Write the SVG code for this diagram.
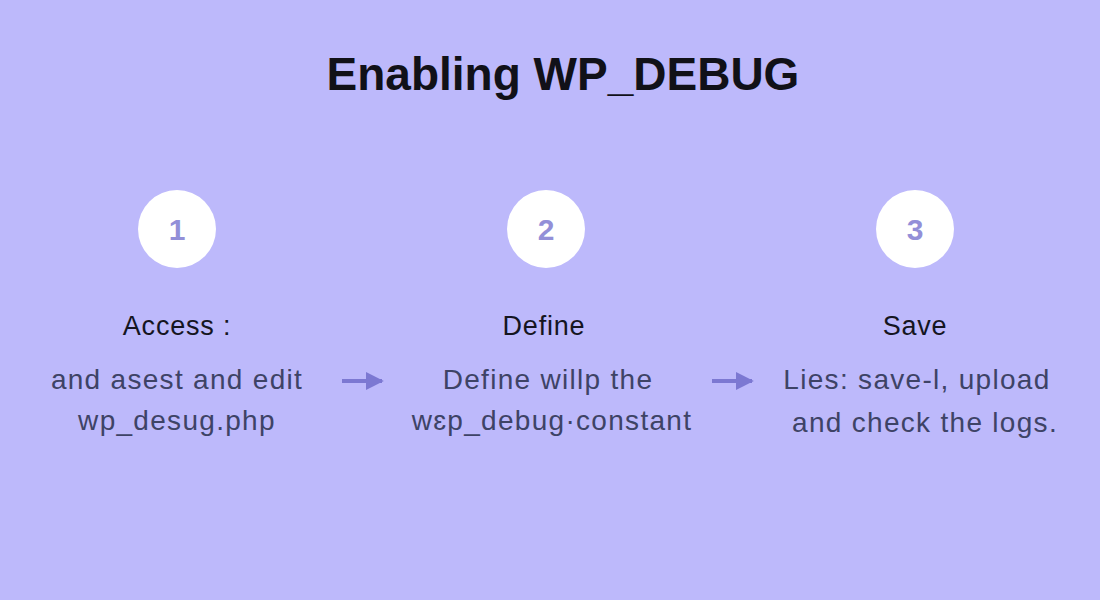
<svg xmlns="http://www.w3.org/2000/svg" width="1100" height="600" viewBox="0 0 1100 600">
  <style>
    .title { font-family: "Liberation Sans", Arial, sans-serif; font-size: 46px; font-weight: 700; fill: #111118; text-anchor: middle; }
    .num { font-family: "Liberation Sans", Arial, sans-serif; font-size: 30px; font-weight: 700; fill: #938fd8; text-anchor: middle; }
    .label { font-family: "Liberation Sans", Arial, sans-serif; font-size: 27px; fill: #15151f; text-anchor: middle; letter-spacing: 0.8px; }
    .body { font-family: "Liberation Sans", Arial, sans-serif; font-size: 28px; fill: #3e4366; text-anchor: middle; letter-spacing: 1.3px; }
    .circle { fill: #ffffff; }
    .conn { stroke: #7c78d2; stroke-width: 4; fill: none; }
  </style>
  <defs>
    <marker id="arrow" viewBox="0 0 10 10" refX="9" refY="5" markerWidth="4.5" markerHeight="4.5" markerUnits="strokeWidth" orient="auto">
      <path d="M0,0 L10,5 L0,10 Z" fill="#7c78d2"/>
    </marker>
  </defs>
  <rect x="0" y="0" width="1100" height="600" fill="#bdb9fb"/>
  <text class="title" x="563" y="90">Enabling WP_DEBUG</text>

  <g id="step1">
    <circle class="circle" cx="177" cy="229" r="39"/>
    <text class="num" x="177" y="240">1</text>
    <text class="label" x="177" y="335">Access :</text>
    <text class="body" x="177" y="389">and asest and edit</text>
    <text class="body" x="177" y="430">wp_desug.php</text>
  </g>

  <g id="step2">
    <circle class="circle" cx="546" cy="229" r="39"/>
    <text class="num" x="546" y="240">2</text>
    <text class="label" x="544" y="335">Define</text>
    <text class="body" x="548" y="389">Define willp the</text>
    <text class="body" x="552" y="430">wɛp_debug·constant</text>
  </g>

  <g id="step3">
    <circle class="circle" cx="915" cy="229" r="39"/>
    <text class="num" x="915" y="240">3</text>
    <text class="label" x="915" y="335">Save</text>
    <text class="body" x="917" y="389">Lies: save-l, upload</text>
    <text class="body" x="925" y="432">and check the logs.</text>
  </g>

  <g id="connectors">
    <line class="conn" x1="342" y1="381" x2="382" y2="381" marker-end="url(#arrow)"/>
    <line class="conn" x1="712" y1="381" x2="752" y2="381" marker-end="url(#arrow)"/>
  </g>
</svg>
